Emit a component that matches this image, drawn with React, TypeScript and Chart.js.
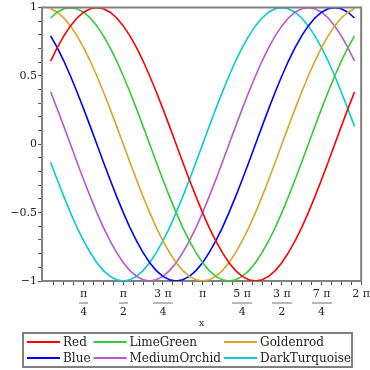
import { useEffect, useRef } from 'react';
import { Chart, registerables } from 'chart.js';

Chart.register(...registerables);

// x sample positions (radians)
const xValues = [
  0.131, 0.262, 0.393, 0.524, 0.654, 0.785, 0.916, 1.047, 1.178, 1.309, 1.44, 1.571,
  1.702, 1.833, 1.963, 2.094, 2.225, 2.356, 2.487, 2.618, 2.749, 2.88, 3.011, 3.142,
  3.272, 3.403, 3.534, 3.665, 3.796, 3.927, 4.058, 4.189, 4.32, 4.451, 4.581, 4.712,
  4.843, 4.974, 5.105, 5.236, 5.367, 5.498, 5.629, 5.76, 5.89, 6.021, 6.152,
];

const red = [
  0.609, 0.707, 0.793, 0.866, 0.924, 0.966, 0.991, 1,
  0.991, 0.966, 0.924, 0.866, 0.793, 0.707, 0.609, 0.5, 0.383, 0.259, 0.131, 0,
  -0.131, -0.259, -0.383, -0.5, -0.609, -0.707, -0.793, -0.866, -0.924, -0.966, -0.991, -1,
  -0.991, -0.966, -0.924, -0.866, -0.793, -0.707, -0.609, -0.5, -0.383, -0.259, -0.131, 0,
  0.131, 0.259, 0.383,
];

const limeGreen = [
  0.924, 0.966, 0.991, 1,
  0.991, 0.966, 0.924, 0.866, 0.793, 0.707, 0.609, 0.5, 0.383, 0.259, 0.131, 0,
  -0.131, -0.259, -0.383, -0.5, -0.609, -0.707, -0.793, -0.866, -0.924, -0.966, -0.991, -1,
  -0.991, -0.966, -0.924, -0.866, -0.793, -0.707, -0.609, -0.5, -0.383, -0.259, -0.131, 0,
  0.131, 0.259, 0.383, 0.5, 0.609, 0.707, 0.793,
];

const goldenrod = [
  0.991, 0.966, 0.924, 0.866, 0.793, 0.707, 0.609, 0.5, 0.383, 0.259, 0.131, 0,
  -0.131, -0.259, -0.383, -0.5, -0.609, -0.707, -0.793, -0.866, -0.924, -0.966, -0.991, -1,
  -0.991, -0.966, -0.924, -0.866, -0.793, -0.707, -0.609, -0.5, -0.383, -0.259, -0.131, 0,
  0.131, 0.259, 0.383, 0.5, 0.609, 0.707, 0.793, 0.866, 0.924, 0.966, 0.991,
];

const blue = [
  0.793, 0.707, 0.609, 0.5, 0.383, 0.259, 0.131, 0,
  -0.131, -0.259, -0.383, -0.5, -0.609, -0.707, -0.793, -0.866, -0.924, -0.966, -0.991, -1,
  -0.991, -0.966, -0.924, -0.866, -0.793, -0.707, -0.609, -0.5, -0.383, -0.259, -0.131, 0,
  0.131, 0.259, 0.383, 0.5, 0.609, 0.707, 0.793, 0.866, 0.924, 0.966, 0.991, 1,
  0.991, 0.966, 0.924,
];

const mediumOrchid = [
  0.383, 0.259, 0.131, 0,
  -0.131, -0.259, -0.383, -0.5, -0.609, -0.707, -0.793, -0.866, -0.924, -0.966, -0.991, -1,
  -0.991, -0.966, -0.924, -0.866, -0.793, -0.707, -0.609, -0.5, -0.383, -0.259, -0.131, 0,
  0.131, 0.259, 0.383, 0.5, 0.609, 0.707, 0.793, 0.866, 0.924, 0.966, 0.991, 1,
  0.991, 0.966, 0.924, 0.866, 0.793, 0.707, 0.609,
];

const darkTurquoise = [
  -0.131, -0.259, -0.383, -0.5, -0.609, -0.707, -0.793, -0.866, -0.924, -0.966, -0.991, -1,
  -0.991, -0.966, -0.924, -0.866, -0.793, -0.707, -0.609, -0.5, -0.383, -0.259, -0.131, 0,
  0.131, 0.259, 0.383, 0.5, 0.609, 0.707, 0.793, 0.866, 0.924, 0.966, 0.991, 1,
  0.991, 0.966, 0.924, 0.866, 0.793, 0.707, 0.609, 0.5, 0.383, 0.259, 0.131,
];

const seriesNames = ['Red', 'LimeGreen', 'Goldenrod', 'Blue', 'MediumOrchid', 'DarkTurquoise'];
const seriesColors = ['#ff0000', '#32cd32', '#daa520', '#0000ff', '#ba55d3', '#00ced1'];
const seriesValues = [red, limeGreen, goldenrod, blue, mediumOrchid, darkTurquoise];

const xTickNumerators = ['π', 'π', '3 π', 'π', '5 π', '3 π', '7 π', '2 π'];
const xTickDenominators = ['4', '2', '4', '', '4', '2', '4', ''];
const yLabelValues = [-1, -0.5, 0, 0.5, 1];
const yTickLabels = ['−1', '−0.5', '0', '0.5', '1'];

const FONT = '"DejaVu Serif", serif';
const TICK_FONT_SIZE = 11;
const TICK_LINE_H = 18;
const TICK_LEN = 4;
const FRAME_COLOR = '#808080';

const framePlugin = {
  id: 'frameAndLegend',
  afterDraw(chart: any) {
    const ctx = chart.ctx as CanvasRenderingContext2D;
    const area = chart.chartArea;
    ctx.save();
    // top and right frame lines
    ctx.strokeStyle = FRAME_COLOR;
    ctx.lineWidth = 2;
    ctx.beginPath();
    ctx.moveTo(area.left - 1, area.top);
    ctx.lineTo(area.right, area.top);
    ctx.lineTo(area.right, area.bottom + 1);
    ctx.stroke();

    // fraction bars
    const xs = chart.scales.x;
    ctx.font = `${TICK_FONT_SIZE}px ${FONT}`;
    ctx.fillStyle = '#b8b8b8';
    const yBar = xs.top + TICK_LEN + TICK_LINE_H;
    xTickNumerators.forEach((num, i) => {
      if (!xTickDenominators[i]) return;
      const px = xs.getPixelForValue(((i + 1) * Math.PI) / 4);
      const w = ctx.measureText(num).width + 2;
      ctx.fillRect(Math.round(px - w / 2), Math.round(yBar - 1), Math.round(w), 2);
    });

    // legend box
    ctx.font = `12px ${FONT}`;
    const lineLen = 33;
    const gap = 3;
    const rowY = [342, 358];
    const colW: number[] = [];
    for (let c = 0; c < 3; c++) {
      colW.push(Math.max(ctx.measureText(seriesNames[c]).width, ctx.measureText(seriesNames[c + 3]).width));
    }
    let x = 27;
    const colX: number[] = [];
    for (let c = 0; c < 3; c++) {
      colX.push(x);
      x += lineLen + gap + colW[c] + gap;
    }
    const boxRight = x - gap + 1;
    ctx.strokeStyle = FRAME_COLOR;
    ctx.lineWidth = 2;
    ctx.strokeRect(23, 333, boxRight - 23, 34);
    ctx.textBaseline = 'middle';
    ctx.textAlign = 'left';
    for (let i = 0; i < seriesNames.length; i++) {
      const c = i % 3;
      const r = Math.floor(i / 3);
      ctx.strokeStyle = seriesColors[i];
      ctx.lineWidth = 2;
      ctx.beginPath();
      ctx.moveTo(colX[c], rowY[r]);
      ctx.lineTo(colX[c] + lineLen, rowY[r]);
      ctx.stroke();
      ctx.fillStyle = '#222';
      ctx.fillText(seriesNames[i], colX[c] + lineLen + gap, rowY[r] + 1);
    }
    ctx.restore();
  },
};

export default function App() {
  const ref = useRef<HTMLCanvasElement | null>(null);

  useEffect(() => {
    if (!ref.current) return;
    const datasets = seriesValues.map((vals, i) => ({
      label: seriesNames[i],
      data: xValues.map((x, j) => ({ x, y: vals[j] })),
      borderColor: seriesColors[i],
      backgroundColor: seriesColors[i],
      borderWidth: 1.6,
      pointRadius: 0,
      tension: 0,
      fill: false,
    }));
    const chart = new Chart(ref.current, {
      type: 'line',
      data: { datasets },
      plugins: [framePlugin],
      options: {
        animation: false,
        responsive: false,
        layout: { padding: { top: 7, right: 6, left: 0, bottom: 0 } },
        plugins: { legend: { display: false }, tooltip: { enabled: false } },
        scales: {
          x: {
            type: 'linear',
            min: -0.04,
            max: 2 * Math.PI,
            afterFit: (s: any) => { s.height = 89; },
            afterBuildTicks: (s: any) => {
              s.ticks = Array.from({ length: 32 }, (_, k) => ({ value: ((k + 1) * Math.PI) / 16 }));
            },
            border: { color: FRAME_COLOR, width: 2 },
            grid: { drawOnChartArea: false, drawTicks: true, tickLength: TICK_LEN, color: '#555' },
            ticks: {
              autoSkip: false,
              maxRotation: 0,
              padding: 0,
              color: '#222',
              font: { family: FONT, size: TICK_FONT_SIZE, lineHeight: `${TICK_LINE_H}px` },
              callback: (v: any) => {
                const k = Math.round(Number(v) / (Math.PI / 16));
                if (k % 4 !== 0) return '';
                const idx = k / 4 - 1;
                return xTickDenominators[idx] ? [xTickNumerators[idx], xTickDenominators[idx]] : xTickNumerators[idx];
              },
            },
            title: {
              display: true,
              text: 'x',
              color: '#333',
              font: { family: FONT, size: 10 },
              padding: { top: 0, bottom: 41 },
            },
          },
          y: {
            type: 'linear',
            min: -1,
            max: 1,
            afterFit: (s: any) => { s.width = 42; },
            afterBuildTicks: (s: any) => {
              s.ticks = Array.from({ length: 21 }, (_, k) => ({ value: -1 + k * 0.1 }));
            },
            border: { color: FRAME_COLOR, width: 2 },
            grid: { drawOnChartArea: false, drawTicks: true, tickLength: TICK_LEN, color: '#555' },
            ticks: {
              autoSkip: false,
              padding: 1,
              color: '#222',
              font: { family: FONT, size: TICK_FONT_SIZE },
              callback: (v: any) => {
                const idx = yLabelValues.findIndex((lv) => Math.abs(lv - Number(v)) < 1e-6);
                return idx >= 0 ? yTickLabels[idx] : '';
              },
            },
          },
        },
      },
    });
    return () => chart.destroy();
  }, []);

  return (
    <div style={{ position: 'absolute', left: 0, top: 0, width: 370, height: 370, background: '#fff' }}>
      <canvas ref={ref} width={370} height={370} />
    </div>
  );
}
